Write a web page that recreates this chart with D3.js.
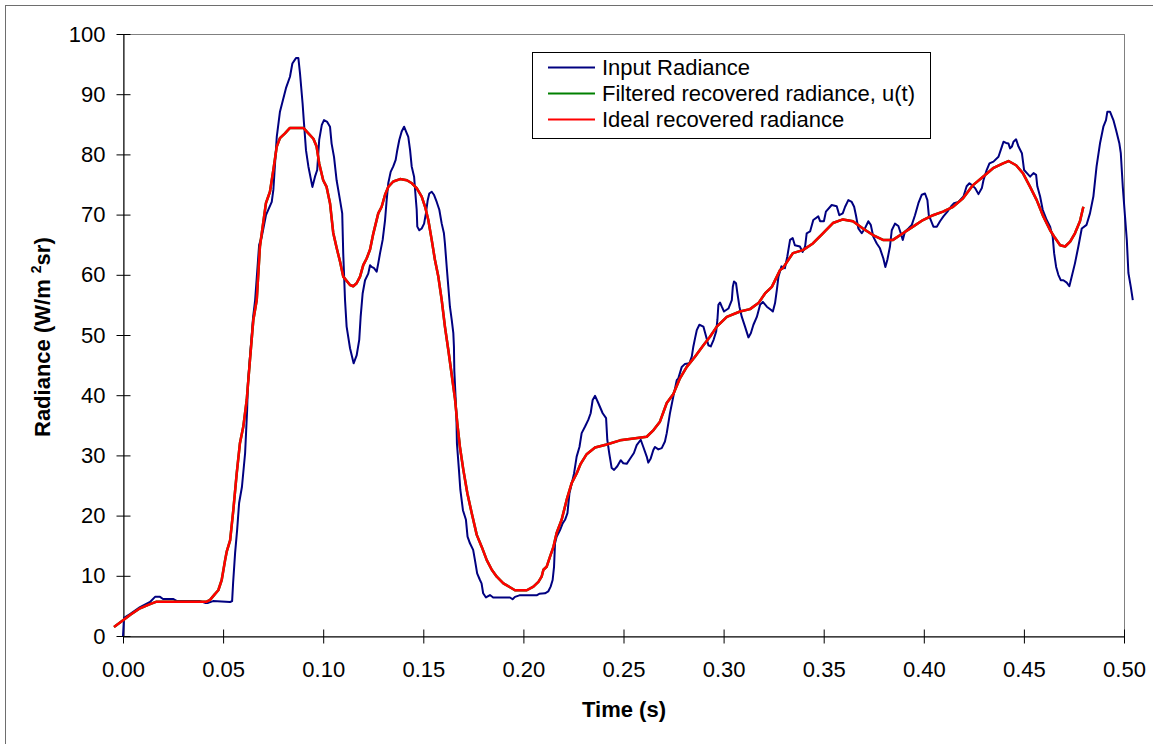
<!DOCTYPE html>
<html>
<head>
<meta charset="utf-8">
<script src="https://cdn.jsdelivr.net/npm/d3@7"></script>
<style>
  html, body { margin: 0; padding: 0; background: #fff; }
  svg { display: block; font-family: "Liberation Sans", Arial, sans-serif; }
</style>
</head>
<body>
<svg id="chart" width="1153" height="744"></svg>
<script>
// ---------------- DATA ----------------
const xTicks = [0.00, 0.05, 0.10, 0.15, 0.20, 0.25, 0.30, 0.35, 0.40, 0.45, 0.50];
const yTicks = [0, 10, 20, 30, 40, 50, 60, 70, 80, 90, 100];
const seriesNames = ["Input Radiance", "Filtered recovered radiance, u(t)", "Ideal recovered radiance"];
const seriesColors = ["#000080", "#008000", "#FF0000"];
const xTitle = "Time (s)";

// Input radiance: [time (s), radiance]
const inputRadiance = [
[0,0],[0.0005,3.0],[0.0035,3.65],[0.0085,4.8],[0.0135,5.65],[0.016,6.5],[0.0185,6.5],[0.02,6.15],[0.025,6.15],[0.027,5.8],
[0.0385,5.8],[0.041,5.5],[0.0425,5.5],[0.045,5.8],[0.0535,5.65],[0.0545,5.8],[0.055,8.8],[0.056,13.8],[0.057,17.6],[0.058,22.1],
[0.0594,24.75],[0.061,30.4],[0.062,37.5],[0.0624,42],[0.065,53],[0.066,55.8],[0.068,65],[0.0693,66.3],[0.0714,69.9],[0.0743,72.1],
[0.0751,74.1],[0.0768,82.9],[0.0784,87.1],[0.0814,91],[0.0834,92.9],[0.0846,95.1],[0.0864,96],[0.0876,96],[0.0884,93.5],[0.0897,88.5],
[0.0904,85.2],[0.0914,80.7],[0.0926,78],[0.0946,74.6],[0.0959,76.3],[0.097,77.4],[0.098,82.4],[0.0993,84.9],[0.1004,85.7],[0.102,85.4],
[0.1034,84.6],[0.1042,81.8],[0.1054,79.6],[0.1067,75.7],[0.1084,72.4],[0.1095,70.2],[0.11,63.6],[0.1109,55.8],[0.1117,51.4],[0.1134,47.8],
[0.1152,45.3],[0.1167,46.6],[0.118,49.2],[0.1187,53],[0.1197,56.9],[0.1209,59.1],[0.1225,60.2],[0.1234,61.6],[0.1242,61.3],[0.1254,61.1],
[0.1267,60.5],[0.1275,61.9],[0.1284,63.6],[0.1297,65.8],[0.1309,69.1],[0.1317,72.4],[0.1325,75.2],[0.1337,77.1],[0.135,78],[0.1362,79.1],
[0.137,80.7],[0.138,82.4],[0.1392,83.8],[0.1404,84.6],[0.1414,83.8],[0.1425,82.9],[0.1434,80.7],[0.1442,78],[0.1454,76.3],[0.1459,74.1],
[0.1467,70.8],[0.147,68],[0.148,67.4],[0.1492,67.7],[0.1504,68.5],[0.1513,70.2],[0.1522,72.4],[0.153,73.5],[0.1542,73.8],[0.1553,73.3],
[0.1567,72.1],[0.158,70.8],[0.1592,68.5],[0.1603,66.9],[0.1608,65.2],[0.1617,61.3],[0.1625,58],[0.1633,54.7],[0.1642,52.5],[0.165,50.3],
[0.1653,48.1],[0.1655,44],[0.1665,37],[0.1668,32],[0.1678,27.6],[0.1685,24.3],[0.1698,20.9],[0.1713,19.3],[0.1721,16.5],[0.1733,15.4],
[0.1749,14.3],[0.1758,12.6],[0.1769,10.4],[0.1783,9.3],[0.1791,8.75],[0.1799,7.1],[0.1813,6.4],[0.1833,6.8],[0.1849,6.4],[0.1933,6.4],
[0.1946,6.1],[0.1958,6.5],[0.198,6.75],[0.2066,6.75],[0.2079,7.0],[0.2108,7.1],[0.2124,7.4],[0.2136,8.2],[0.2146,9.3],[0.2153,11.5],
[0.2158,15.4],[0.2166,16.5],[0.2183,17.6],[0.2196,18.7],[0.2208,19.3],[0.222,20.4],[0.223,23.7],[0.2242,25.4],[0.2253,27],[0.2266,29.8],
[0.228,31.4],[0.2291,33.7],[0.2308,34.8],[0.2324,35.9],[0.2336,37],[0.2346,39.2],[0.2358,39.9],[0.2374,38.7],[0.2396,37],[0.2413,36.2],
[0.2419,32.6],[0.2429,30.3],[0.2441,27.9],[0.2453,27.6],[0.2469,28.2],[0.2486,29.2],[0.2499,28.7],[0.2516,28.6],[0.2532,29.4],[0.2552,30.4],
[0.2566,31.7],[0.2586,32.6],[0.2599,31.4],[0.2616,29.8],[0.2624,28.8],[0.2636,29.5],[0.2649,30.9],[0.2657,31.4],[0.2674,31],[0.2691,31.2],
[0.2707,32.3],[0.2716,33.7],[0.2732,37],[0.2749,39.8],[0.2766,42.5],[0.2774,42.8],[0.2791,44.7],[0.2807,45.2],[0.2829,45.3],[0.2841,46.4],
[0.2849,48.1],[0.2857,49.4],[0.2866,50.8],[0.2879,51.7],[0.2899,51.4],[0.2913,49.7],[0.2924,48.3],[0.2936,48.1],[0.295,49.2],[0.2963,50.6],
[0.2969,52.5],[0.2974,55],[0.2982,55.4],[0.2991,54.7],[0.3002,53.9],[0.3024,54.4],[0.3041,55.8],[0.3046,58],[0.3052,58.9],[0.3062,58.6],
[0.3069,56.9],[0.3079,54.7],[0.3091,53],[0.3107,51.4],[0.3124,49.6],[0.3136,50.3],[0.3149,51.7],[0.3166,53],[0.3182,55],[0.3196,55.5],
[0.3216,54.7],[0.3236,54.2],[0.3246,53.9],[0.3257,55.3],[0.3266,57.5],[0.3274,59.7],[0.3289,61.4],[0.3306,61.1],[0.3318,63],[0.3332,65.8],
[0.3345,66.1],[0.3356,64.9],[0.3381,64.7],[0.3395,63.8],[0.3407,64.7],[0.3415,66.9],[0.3432,67.2],[0.3448,69.1],[0.3473,69.7],[0.3482,68.9],
[0.3501,68.9],[0.3511,70.5],[0.354,71.6],[0.3565,71.4],[0.3578,69.9],[0.3595,70.2],[0.3607,71.3],[0.3623,72.4],[0.364,72.1],[0.3652,71.3],
[0.3661,69.9],[0.3673,67.7],[0.369,66.9],[0.3706,67.7],[0.3723,68.9],[0.3735,68.3],[0.3748,66.3],[0.3765,65.2],[0.3781,64.4],[0.3798,62.7],
[0.3808,61.3],[0.3818,62.5],[0.3831,64.7],[0.384,67.4],[0.3856,68.5],[0.3873,68.1],[0.3885,66.9],[0.3895,65.8],[0.3906,67.2],[0.3923,67.7],
[0.394,68.3],[0.3956,69.9],[0.3973,71.9],[0.399,73.3],[0.4006,73.5],[0.4018,72.4],[0.4025,69.9],[0.4035,69.1],[0.4048,68],[0.4065,68],
[0.4081,68.9],[0.4098,69.7],[0.4118,70.5],[0.4135,71.3],[0.4151,71.9],[0.4173,72.1],[0.4198,73],[0.4214,74.7],[0.4228,75.2],[0.424,74.9],
[0.4256,74.4],[0.4273,73.4],[0.429,74.4],[0.4298,75.7],[0.4314,77.4],[0.4328,78.5],[0.4348,78.8],[0.4373,79.6],[0.439,81.3],[0.4398,82.1],
[0.4411,81.9],[0.4423,81.8],[0.4431,81],[0.444,81.3],[0.4448,82.1],[0.4461,82.5],[0.4473,81.3],[0.449,80.2],[0.4501,77.4],[0.4515,76.9],
[0.4531,76.3],[0.4548,76.9],[0.4561,76.6],[0.4567,74.7],[0.4581,73],[0.4594,70.8],[0.4614,69.1],[0.4631,68],[0.4644,66.3],[0.4651,63.6],
[0.4661,61.3],[0.4672,60],[0.4684,59.1],[0.4697,59.1],[0.4714,58.7],[0.4727,58.1],[0.4739,59.7],[0.4755,61.9],[0.4772,64.7],[0.4789,67.7],
[0.4813,68.3],[0.483,70.2],[0.4847,73],[0.4863,78],[0.488,81.8],[0.4897,84.6],[0.491,85.7],[0.4917,87.1],[0.493,87.1],[0.4947,85.7],
[0.496,84.1],[0.4977,81.8],[0.4984,80.2],[0.4994,74.6],[0.5005,69.7],[0.5014,65.8],[0.5022,60.3],[0.5034,58],[0.5044,55.8]
];

// Filtered recovered radiance u(t): [time (s), radiance]
const filteredRadiance = [
[-0.0045,1.5],[0.0002,2.65],[0.0035,3.5],[0.0085,4.6],[0.0135,5.3],[0.0168,5.7],[0.0418,5.7],[0.0435,6.0],[0.046,7.0],[0.0476,7.6],
[0.0493,9.3],[0.051,12.6],[0.0518,14],[0.0535,15.9],[0.0551,20.9],[0.0568,27],[0.0584,32],[0.0601,34.8],[0.0618,39.2],[0.0634,45.8],
[0.0651,52.5],[0.0668,55.8],[0.0684,64.7],[0.0714,71.9],[0.0734,73.8],[0.0751,77.4],[0.0768,81.3],[0.0784,82.7],[0.0809,83.5],[0.0834,84.4],
[0.0901,84.4],[0.0926,83.5],[0.0951,82.6],[0.0967,81.3],[0.098,78.5],[0.1,75.7],[0.1017,74.6],[0.1034,71.9],[0.105,67],[0.1067,64.5],
[0.1084,62.2],[0.11,59.7],[0.1134,58.3],[0.115,58.1],[0.1167,58.6],[0.1184,59.7],[0.12,61.6],[0.1217,62.7],[0.1234,64.2],[0.125,66.8],
[0.1275,70.2],[0.1292,71.3],[0.1309,73.3],[0.1325,74.6],[0.135,75.5],[0.1384,75.9],[0.1418,75.7],[0.1443,75.2],[0.1467,74.4],[0.1492,73],
[0.1509,71.3],[0.1525,69.1],[0.1542,65.8],[0.1558,62.5],[0.1575,59.7],[0.1592,55.8],[0.1608,51.4],[0.1625,47.5],[0.1641,43.6],[0.1658,39.5],
[0.167,35.3],[0.1683,31.4],[0.17,27.6],[0.172,23.7],[0.1742,20.4],[0.1767,16.8],[0.1792,14.8],[0.1817,12.6],[0.1842,11],[0.1867,9.85],
[0.19,8.75],[0.1933,8.1],[0.1958,7.6],[0.2017,7.6],[0.205,8.2],[0.2075,9],[0.2091,9.85],[0.21,11],[0.2116,11.5],[0.2133,13.2],
[0.215,14.8],[0.2166,17.1],[0.2191,19.3],[0.2216,22.6],[0.2241,25.4],[0.2266,27],[0.2286,28.6],[0.2316,30.2],[0.2358,31.3],[0.2416,31.8],
[0.2483,32.5],[0.255,32.8],[0.2616,33.1],[0.265,34.2],[0.2682,35.6],[0.2716,38.7],[0.2749,40.2],[0.2782,42.8],[0.2816,44.7],[0.2857,46.4],
[0.2899,48.3],[0.2932,49.7],[0.2966,51.4],[0.3016,53],[0.3082,53.9],[0.3132,54.3],[0.3174,55.3],[0.3207,56.9],[0.3241,58],[0.3266,59.7],
[0.3282,60.8],[0.3296,61.1],[0.3346,63.6],[0.3396,64.1],[0.3446,65.2],[0.3496,66.9],[0.3546,68.6],[0.3596,69.2],[0.3646,68.9],[0.3696,67.7],
[0.3746,66.6],[0.3796,65.8],[0.3846,65.8],[0.3896,66.9],[0.3946,68],[0.3996,69.1],[0.4046,69.9],[0.4096,70.5],[0.4146,71.3],[0.4196,72.7],
[0.4246,74.9],[0.4296,76.3],[0.4346,77.7],[0.4396,78.5],[0.4423,78.9],[0.4461,78.2],[0.4495,76.9],[0.4531,74.6],[0.4564,72.4],[0.4597,69.7],
[0.4631,67.4],[0.4656,66.1],[0.4681,64.9],[0.4706,64.7],[0.4731,65.5],[0.4755,66.9],[0.478,68.9],[0.4797,71.3]
];

// Ideal recovered radiance: [time (s), radiance]
const idealRadiance = [
[-0.0045,1.5],[0.0002,2.65],[0.0035,3.5],[0.0085,4.6],[0.0135,5.3],[0.0168,5.7],[0.0418,5.7],[0.0435,6.0],[0.046,7.0],[0.0476,7.6],
[0.0493,9.3],[0.051,12.6],[0.0518,14],[0.0535,15.9],[0.0551,20.9],[0.0568,27],[0.0584,32],[0.0601,34.8],[0.0618,39.2],[0.0634,45.8],
[0.0651,52.5],[0.0668,55.8],[0.0684,64.7],[0.0714,71.9],[0.0734,73.8],[0.0751,77.4],[0.0768,81.3],[0.0784,82.7],[0.0809,83.5],[0.0834,84.4],
[0.0901,84.4],[0.0926,83.5],[0.0951,82.6],[0.0967,81.3],[0.098,78.5],[0.1,75.7],[0.1017,74.6],[0.1034,71.9],[0.105,67],[0.1067,64.5],
[0.1084,62.2],[0.11,59.7],[0.1134,58.3],[0.115,58.1],[0.1167,58.6],[0.1184,59.7],[0.12,61.6],[0.1217,62.7],[0.1234,64.2],[0.125,66.8],
[0.1275,70.2],[0.1292,71.3],[0.1309,73.3],[0.1325,74.6],[0.135,75.5],[0.1384,75.9],[0.1418,75.7],[0.1443,75.2],[0.1467,74.4],[0.1492,73],
[0.1509,71.3],[0.1525,69.1],[0.1542,65.8],[0.1558,62.5],[0.1575,59.7],[0.1592,55.8],[0.1608,51.4],[0.1625,47.5],[0.1641,43.6],[0.1658,39.5],
[0.167,35.3],[0.1683,31.4],[0.17,27.6],[0.172,23.7],[0.1742,20.4],[0.1767,16.8],[0.1792,14.8],[0.1817,12.6],[0.1842,11],[0.1867,9.85],
[0.19,8.75],[0.1933,8.1],[0.1958,7.6],[0.2017,7.6],[0.205,8.2],[0.2075,9],[0.2091,9.85],[0.21,11],[0.2116,11.5],[0.2133,13.2],
[0.215,14.8],[0.2166,17.1],[0.2191,19.3],[0.2216,22.6],[0.2241,25.4],[0.2266,27],[0.2286,28.6],[0.2316,30.2],[0.2358,31.3],[0.2416,31.8],
[0.2483,32.5],[0.255,32.8],[0.2616,33.1],[0.265,34.2],[0.2682,35.6],[0.2716,38.7],[0.2749,40.2],[0.2782,42.8],[0.2816,44.7],[0.2857,46.4],
[0.2899,48.3],[0.2932,49.7],[0.2966,51.4],[0.3016,53],[0.3082,53.9],[0.3132,54.3],[0.3174,55.3],[0.3207,56.9],[0.3241,58],[0.3266,59.7],
[0.3282,60.8],[0.3296,61.1],[0.3346,63.6],[0.3396,64.1],[0.3446,65.2],[0.3496,66.9],[0.3546,68.6],[0.3596,69.2],[0.3646,68.9],[0.3696,67.7],
[0.3746,66.6],[0.3796,65.8],[0.3846,65.8],[0.3896,66.9],[0.3946,68],[0.3996,69.1],[0.4046,69.9],[0.4096,70.5],[0.4146,71.3],[0.4196,72.7],
[0.4246,74.9],[0.4296,76.3],[0.4346,77.7],[0.4396,78.5],[0.4423,78.9],[0.4461,78.2],[0.4495,76.9],[0.4531,74.6],[0.4564,72.4],[0.4597,69.7],
[0.4631,67.4],[0.4656,66.1],[0.4681,64.9],[0.4706,64.7],[0.4731,65.5],[0.4755,66.9],[0.478,68.9],[0.4797,71.3]
];

// ---------------- LAYOUT ----------------
const svg = d3.select("#chart");
const plot = { left: 123, right: 1124, top: 34, bottom: 636 };
const x = d3.scaleLinear().domain([0, 0.5]).range([plot.left, plot.right]);
const y = d3.scaleLinear().domain([0, 100]).range([plot.bottom, plot.top]);
const FONT = 22;

// Outer chart frame
svg.append("rect")
  .attr("x", 5.5).attr("y", 5.5).attr("width", 1300).attr("height", 900)
  .attr("fill", "#fff").attr("stroke", "#6e6e6e").attr("stroke-width", 1);

// Plot area border (gray)
svg.append("rect")
  .attr("x", plot.left + 0.5).attr("y", plot.top + 0.5)
  .attr("width", plot.right - plot.left).attr("height", plot.bottom - plot.top)
  .attr("fill", "none").attr("stroke", "#808080").attr("stroke-width", 1);

// Y axis
const yAxis = svg.append("g")
  .attr("transform", `translate(${plot.left + 0.5},0)`)
  .call(d3.axisLeft(y).tickValues(yTicks).tickFormat(d3.format("d"))
        .tickSizeInner(7).tickSizeOuter(0).tickPadding(11));
yAxis.selectAll(".tick line").attr("x1", 7).attr("x2", -7).attr("stroke", "#000");
yAxis.select(".domain").attr("stroke", "#000");
yAxis.selectAll("text").attr("font-size", FONT).attr("fill", "#000")
  .attr("font-family", "Liberation Sans, Arial, sans-serif");

// X axis
const xAxis = svg.append("g")
  .attr("transform", `translate(0,${plot.bottom + 0.5})`)
  .call(d3.axisBottom(x).tickValues(xTicks).tickFormat(d3.format(".2f"))
        .tickSizeInner(7).tickSizeOuter(0).tickPadding(18));
xAxis.selectAll(".tick line").attr("y1", -7).attr("y2", 7).attr("stroke", "#000");
xAxis.select(".domain").attr("stroke", "#000");
xAxis.selectAll("text").attr("font-size", FONT).attr("fill", "#000")
  .attr("font-family", "Liberation Sans, Arial, sans-serif");

// Lines
const line = d3.line().x(d => x(d[0])).y(d => y(d[1]));
const seriesData = [inputRadiance, filteredRadiance, idealRadiance];
const widths = [2, 2.5, 2.5];
seriesData.forEach((data, i) => {
  svg.append("path")
    .datum(data)
    .attr("fill", "none")
    .attr("stroke", seriesColors[i])
    .attr("stroke-width", widths[i])
    .attr("stroke-linejoin", "round")
    .attr("d", line);
});

// Axis titles
svg.append("text")
  .attr("x", (plot.left + plot.right) / 2 + 0.5).attr("y", 717)
  .attr("text-anchor", "middle").attr("font-weight", "bold").attr("font-size", FONT)
  .text(xTitle);

const yt = svg.append("text")
  .attr("transform", "translate(50,437) rotate(-90)")
  .attr("text-anchor", "start").attr("font-weight", "bold").attr("font-size", FONT);
yt.append("tspan").text("Radiance (W/m ");
yt.append("tspan").attr("font-size", 14).attr("dy", -9).text("2");
yt.append("tspan").attr("dy", 9).text("sr)");

// Legend
const legend = svg.append("g");
legend.append("rect")
  .attr("x", 532.5).attr("y", 52.5).attr("width", 398).attr("height", 86)
  .attr("fill", "#fff").attr("stroke", "#000").attr("stroke-width", 1);
const rowY = [67.5, 93.5, 119.5];
seriesNames.forEach((name, i) => {
  legend.append("line")
    .attr("x1", 548).attr("x2", 595).attr("y1", rowY[i]).attr("y2", rowY[i])
    .attr("stroke", seriesColors[i]).attr("stroke-width", 2);
  legend.append("text")
    .attr("x", 602).attr("y", rowY[i] + 7.5)
    .attr("font-size", FONT).attr("fill", "#000")
    .text(name);
});
</script>
</body>
</html>
